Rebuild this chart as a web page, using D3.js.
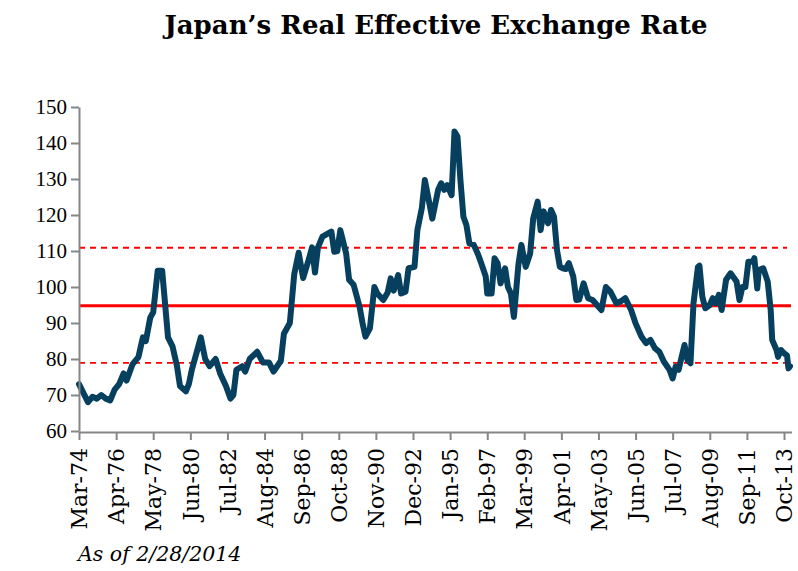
<!DOCTYPE html>
<html>
<head>
<meta charset="utf-8">
<script src="https://cdn.jsdelivr.net/npm/d3@7"></script>
<style>
  body { margin: 0; background: #fff; }
  text { font-family: "Liberation Serif", "DejaVu Serif", serif; }
</style>
</head>
<body>
<div id="chart"></div>
<script>
var dates = ["1974-03","1974-06","1974-09","1974-12","1975-03","1975-06","1975-09","1975-12","1976-03","1976-06",
  "1976-09","1976-11","1977-03","1977-07","1977-10","1977-12","1978-03","1978-05","1978-08","1978-11",
  "1979-03","1979-06","1979-09","1979-11","1980-03","1980-05","1980-07","1980-10","1981-01","1981-04",
  "1981-07","1981-11","1982-02","1982-06","1982-09","1982-11","1983-01","1983-05","1983-07","1983-10",
  "1984-03","1984-07","1984-11","1985-02","1985-07","1985-09","1986-01","1986-04","1986-07","1986-10",
  "1987-02","1987-04","1987-06","1987-08","1987-11","1988-05","1988-07","1988-09","1988-11","1989-03",
  "1989-05","1989-08","1989-12","1990-02","1990-04","1990-07","1990-10","1990-12","1991-04","1991-07",
  "1991-09","1991-11","1992-02","1992-04","1992-07","1992-09","1993-01","1993-03","1993-06","1993-08",
  "1993-11","1994-01","1994-05","1994-07","1994-09","1994-11","1995-02","1995-04","1995-06","1995-08",
  "1995-10","1995-12","1996-02","1996-05","1996-08","1996-10","1997-01","1997-02","1997-05","1997-07",
  "1997-09","1997-11","1998-02","1998-04","1998-06","1998-08","1998-11","1999-01","1999-04","1999-07",
  "1999-09","1999-12","2000-02","2000-04","2000-07","2000-09","2000-11","2001-01","2001-03","2001-05",
  "2001-07","2001-09","2001-12","2002-02","2002-04","2002-07","2002-10","2003-01","2003-04","2003-07",
  "2003-10","2004-01","2004-05","2004-08","2004-11","2005-03","2005-06","2005-10","2006-01","2006-04",
  "2006-07","2006-10","2007-01","2007-05","2007-07","2007-09","2007-11","2008-01","2008-03","2008-05",
  "2008-07","2008-09","2008-12","2009-01","2009-03","2009-05","2009-08","2009-10","2009-12","2010-02",
  "2010-04","2010-07","2010-10","2011-02","2011-04","2011-06","2011-08","2011-10","2012-01","2012-02",
  "2012-04","2012-05","2012-08","2012-11","2013-01","2013-02","2013-05","2013-06","2013-08","2013-10",
  "2013-12","2014-01","2014-02"];
var reer = [73,70.5,68,69.5,69,70,69,68.5,71.5,73,
  76,74,78.5,80.5,86,85,91.5,93,104.5,104.5,
  86,83.5,78,72.5,71,73,77,81.5,86,80,
  78,80,76,72.5,69,70,77,78,76.5,80,
  82,79,79,76.5,79.5,87,90,103.5,109.5,102.5,
  108,111,104,111,114,115.4,109.8,110,115.8,109.3,
  102,100.6,94.5,89.9,86.2,88.5,100,98.2,96.4,98.5,
  102.4,99,103.3,98.2,98.7,105.2,105.6,115.8,122,129.7,
  123.3,119,127,128.8,127,128.3,125.5,143.2,141.8,129.7,
  119.5,117.2,112.1,111.7,108.9,106.6,102.9,98.2,98.2,108,
  106.6,101,105.2,100,98.2,91.7,106.1,111.7,105.6,109.3,
  119,123.7,115.8,121,117.7,121.4,119.5,110.3,105.6,105.2,
  105,106.6,102.9,96.4,96.5,101,96.9,96.4,95,93.6,
  100,98.7,95.5,96,96.9,93.6,89.9,86.2,84.4,85.3,
  83,82,79.3,76.9,74.6,77.9,77,80.6,83.9,79.7,
  78.8,95.5,105.6,105.9,97.3,94.1,95,96.9,95.5,97.8,
  93.6,102,103.8,101.5,96.4,100,100,107,107,108,
  99.6,104.7,105.2,101.5,93.6,85.3,82.5,80.6,82.5,81.6,
  81,77.4,78];

// Long-run average and +/- one standard deviation bands
var refLevels = [110.9, 94.8, 78.9];
var refStyles = ["dash", "solid", "dash"];

var yTicks = [60, 70, 80, 90, 100, 110, 120, 130, 140, 150];
var tickStepMonths = 25;

var w = 798, h = 571;
var plotLeft = 79, plotRight = 790, plotTop = 107, plotBottom = 431;

var parse = d3.timeParse("%Y-%m");
var data = dates.map((d, i) => ({ date: parse(d), value: reer[i] }));

var xScale = d3.scaleTime()
    .domain([parse(dates[0]), parse(dates[dates.length - 1])])
    .range([plotLeft, plotRight]);

var yScale = d3.scaleLinear()
    .domain([60, 150])
    .range([plotBottom, plotTop]);

var svg = d3.select("#chart")
    .append("svg")
    .attr("width", w)
    .attr("height", h);

// Title
svg.append("text")
    .attr("x", 436)
    .attr("y", 34)
    .attr("text-anchor", "middle")
    .style("font-size", "26px")
    .style("font-weight", "bold")
    .style("font-family", "'DejaVu Serif', serif")
    .text("Japan\u2019s Real Effective Exchange Rate");

// Reference lines
refLevels.forEach((lvl, i) => {
    svg.append("line")
        .attr("x1", plotLeft)
        .attr("x2", refStyles[i] === "solid" ? 791 : 787)
        .attr("y1", yScale(lvl))
        .attr("y2", yScale(lvl))
        .attr("stroke", "#ff0000")
        .attr("stroke-width", refStyles[i] === "solid" ? 3 : 1.8)
        .attr("stroke-dasharray", refStyles[i] === "solid" ? null : "6,5");
});

// Series line
var line = d3.line()
    .x(d => xScale(d.date))
    .y(d => yScale(d.value));

svg.append("path")
    .datum(data)
    .attr("fill", "none")
    .attr("stroke", "#07405f")
    .attr("stroke-width", 6)
    .attr("stroke-linejoin", "round")
    .attr("stroke-linecap", "round")
    .attr("d", line);

// X axis, a tick every 25 months from the first observation
var xTickVals = d3.range(0, 476, tickStepMonths).map(k => d3.timeMonth.offset(parse(dates[0]), k));
var xAxis = svg.append("g")
    .attr("transform", `translate(0,${plotBottom + 1})`)
    .call(d3.axisBottom(xScale)
        .tickValues(xTickVals)
        .tickFormat(d3.timeFormat("%b-%y"))
        .tickSize(8)
        .tickSizeOuter(0));
xAxis.select(".domain").attr("d", `M${plotLeft},0.5H792`);
xAxis.selectAll("text")
    .attr("transform", "rotate(-90)")
    .attr("x", -16)
    .attr("y", 0)
    .attr("dy", "0.35em")
    .style("text-anchor", "end")
    .style("font-size", "22px")
    .style("font-family", "'DejaVu Serif', serif")
    .attr("fill", "#000");

// Y axis
var yAxis = svg.append("g")
    .attr("transform", `translate(${plotLeft},0)`)
    .call(d3.axisLeft(yScale)
        .tickValues(yTicks)
        .tickSize(8)
        .tickSizeOuter(0));
yAxis.selectAll("text")
    .attr("x", -12)
    .style("font-size", "21px")
    .attr("fill", "#000");

svg.selectAll(".domain, .tick line")
    .attr("stroke", "#868686")
    .attr("stroke-width", 2);

// Footnote
svg.append("text")
    .attr("x", 78)
    .attr("y", 561)
    .style("font-size", "20.5px")
    .style("font-style", "italic")
    .style("font-family", "'DejaVu Serif', serif")
    .text("As of 2/28/2014");
</script>
</body>
</html>
